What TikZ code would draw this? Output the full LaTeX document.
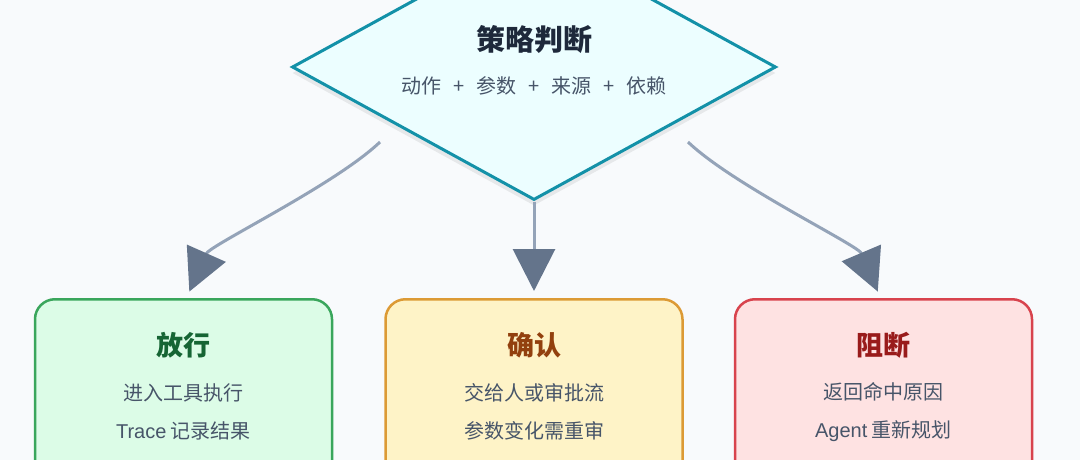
\documentclass[tikz,border=0pt]{standalone}
\usepackage{fontspec}
\setmainfont{Noto Sans CJK SC}
\newfontfamily\latinfont{Liberation Sans}
\usetikzlibrary{arrows.meta,positioning,shapes.geometric,shadows}
\definecolor{canvas}{HTML}{F8FAFC}
\definecolor{judgefill}{HTML}{ECFEFF}
\definecolor{judgeline}{HTML}{1391A8}
\definecolor{titleink}{HTML}{1E293B}
\definecolor{bodyink}{HTML}{475569}
\definecolor{edge}{HTML}{94A3B8}
\definecolor{edgehead}{HTML}{64748B}
\definecolor{passfill}{HTML}{DCFCE7}
\definecolor{passline}{HTML}{3AA65C}
\definecolor{passdark}{HTML}{166534}
\definecolor{askfill}{HTML}{FEF3C7}
\definecolor{askline}{HTML}{DC9A35}
\definecolor{askdark}{HTML}{92400E}
\definecolor{stopfill}{HTML}{FEE2E2}
\definecolor{stopline}{HTML}{D8434D}
\definecolor{stopdark}{HTML}{991B1B}
\newcommand{\plussep}{\hspace{12pt}+\hspace{12pt}}

\begin{document}
\begin{tikzpicture}[x=1pt,y=1pt,
  softshadow/.style={drop shadow={shadow xshift=0pt,shadow yshift=-6pt,opacity=0.07,fill=black}},
  judgebox/.style={diamond,draw=judgeline,fill=judgefill,line width=3pt,
    minimum width=484pt,minimum height=266pt,inner sep=0pt,softshadow},
  outbox/.style={rectangle,rounded corners=20pt,line width=2.5pt,
    minimum width=297pt,minimum height=200pt,softshadow},
  headtext/.style={font=\fontsize{27}{30}\selectfont\bfseries},
  bodytext/.style={font=\fontsize{20}{38}\selectfont,text=bodyink,align=center},
  flow/.style={line width=3pt,draw=edge,
    -{Triangle[length=42pt,width=42pt,color=edgehead]}}]
\useasboundingbox (0,0) rectangle (1080,-460);
\clip (0,0) rectangle (1080,-460);
\fill[canvas] (0,0) rectangle (1080,-460);

% decision
\node[judgebox] (judge) at (534,-67) {};
\node[headtext,text=titleink,font=\fontsize{29}{32}\selectfont\bfseries] (judgeT) at ([yshift=27]judge.center) {策略判断};
\node[bodytext] (judgeB) at ([yshift=-19]judge.center) {动作\plussep 参数\plussep 来源\plussep 依赖};

% outcomes
\node[outbox,draw=askline,fill=askfill,anchor=north] (confirm) at (534,-298) {};
\node[outbox,draw=passline,fill=passfill,left=51pt of confirm] (pass) {};
\node[outbox,draw=stopline,fill=stopfill,right=50pt of confirm] (block) {};

\node[headtext,text=passdark] (passT) at ([yshift=-47]pass.north) {放行};
\node[bodytext] (passB) at ([yshift=-114]pass.north) {进入工具执行\\{\latinfont Trace} 记录结果};
\node[headtext,text=askdark] (confirmT) at ([yshift=-47]confirm.north) {确认};
\node[bodytext] (confirmB) at ([yshift=-114]confirm.north) {交给人或审批流\\参数变化需重审};
\node[headtext,text=stopdark] (blockT) at ([yshift=-47]block.north) {阻断};
\node[bodytext] (blockB) at ([yshift=-114]block.north) {返回命中原因\\{\latinfont Agent} 重新规划};

% connectors
\coordinate (judgeL) at ([shift={(-154,-75)}]judge.center);
\coordinate (judgeR) at ([shift={(154,-75)}]judge.center);
\draw[flow,shorten >=7pt] (judgeL) .. controls (335,-185) and (210,-245) .. ([xshift=3]pass.north);
\draw[flow,shorten >=7pt] (judge.south) -- (confirm.north);
\draw[flow,shorten >=7pt] (judgeR) .. controls (733,-185) and (858,-245) .. ([xshift=-3]block.north);
\end{tikzpicture}
\end{document}
